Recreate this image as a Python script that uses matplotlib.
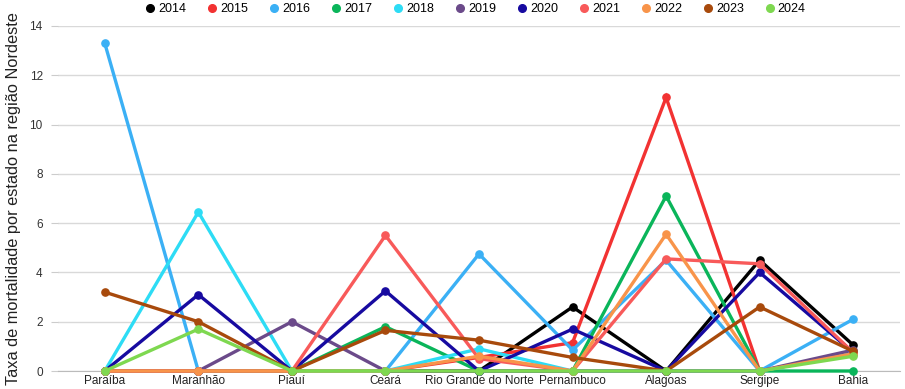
import matplotlib
matplotlib.use("Agg")
import matplotlib.pyplot as plt
from matplotlib.lines import Line2D

plt.rcParams['font.family'] = ['Liberation Sans', 'DejaVu Sans']

states = ["Paraíba", "Maranhão", "Piauí", "Ceará", "Rio Grande do Norte",
          "Pernambuco", "Alagoas", "Sergipe", "Bahia"]

years = ["2014", "2015", "2016", "2017", "2018", "2019", "2020", "2021", "2022", "2023", "2024"]
colors = ["#000000", "#f23232", "#3bb0f5", "#0ab55a", "#2ddcf5", "#6b4a8a",
          "#170aa0", "#f85a5a", "#f8944a", "#a84a0c", "#7ed850"]

v2014 = [0, 0, 0, 0, 0, 2.6, 0, 4.5, 1.05]
v2015 = [0, 0, 0, 0, 0.55, 1.15, 11.1, 0, 0.7]
v2016 = [13.3, 0, 0, 0, 4.75, 0.85, 4.5, 0, 2.1]
v2017 = [0, 0, 0, 1.8, 0, 0, 7.1, 0, 0]
v2018 = [0, 6.45, 0, 0, 0.9, 0, 0, 0, 0.7]
v2019 = [0, 0, 2.0, 0, 0, 0, 0, 0, 0.85]
v2020 = [0, 3.1, 0, 3.25, 0, 1.7, 0, 4.0, 0.75]
v2021 = [0, 0, 0, 5.5, 0.5, 0, 4.55, 4.35, 0.75]
v2022 = [0, 0, 0, 0, 0.6, 0, 5.55, 0, 0.7]
v2023 = [3.2, 2.0, 0, 1.65, 1.25, 0.55, 0, 2.6, 0.8]
v2024 = [0, 1.7, 0, 0, 0, 0, 0, 0, 0.6]

series = [v2014, v2015, v2016, v2017, v2018, v2019, v2020, v2021, v2022, v2023, v2024]

fig = plt.figure(figsize=(9.05, 3.89), dpi=100)
ax = fig.add_axes([58/905, 1 - 371/389, (900 - 58)/905, (371 - 26)/389])

x = list(range(len(states)))
for yr, col, vals in zip(years, colors, series):
    ax.plot(x, vals, color=col, lw=2.4, marker='o', ms=5.2, solid_joinstyle='miter',
            label=yr, clip_on=False, zorder=3)

ax.set_xlim(-0.5, 8.5)
ax.set_ylim(0, 14)
ax.set_yticks(range(0, 15, 2))
ax.set_xticks(x)
ax.set_xticklabels(states)
ax.grid(axis='y', color='#d9d9d9', lw=1)
ax.set_axisbelow(True)
for s in ['top', 'right', 'left']:
    ax.spines[s].set_visible(False)
ax.spines['bottom'].set_color('#bbbbbb')
ax.tick_params(axis='y', length=5, color='#cccccc', labelsize=8.5, labelcolor='#333333', pad=6)
ax.tick_params(axis='x', length=0, labelsize=8.5, labelcolor='#222222', pad=3)
ax.set_ylabel("Taxa de mortalidade por estado na região Nordeste", fontsize=11.8,
              color='#222222', labelpad=6)

handles = [Line2D([], [], color=c, marker='o', ls='none', ms=5.5) for c in colors]
fig.legend(handles, years, loc='upper center', bbox_to_anchor=(0.526, 1.02), ncol=11,
           frameon=False, fontsize=9, handletextpad=0.34, columnspacing=1.78,
           handlelength=0.6)

fig.savefig("out.png", dpi=100)
